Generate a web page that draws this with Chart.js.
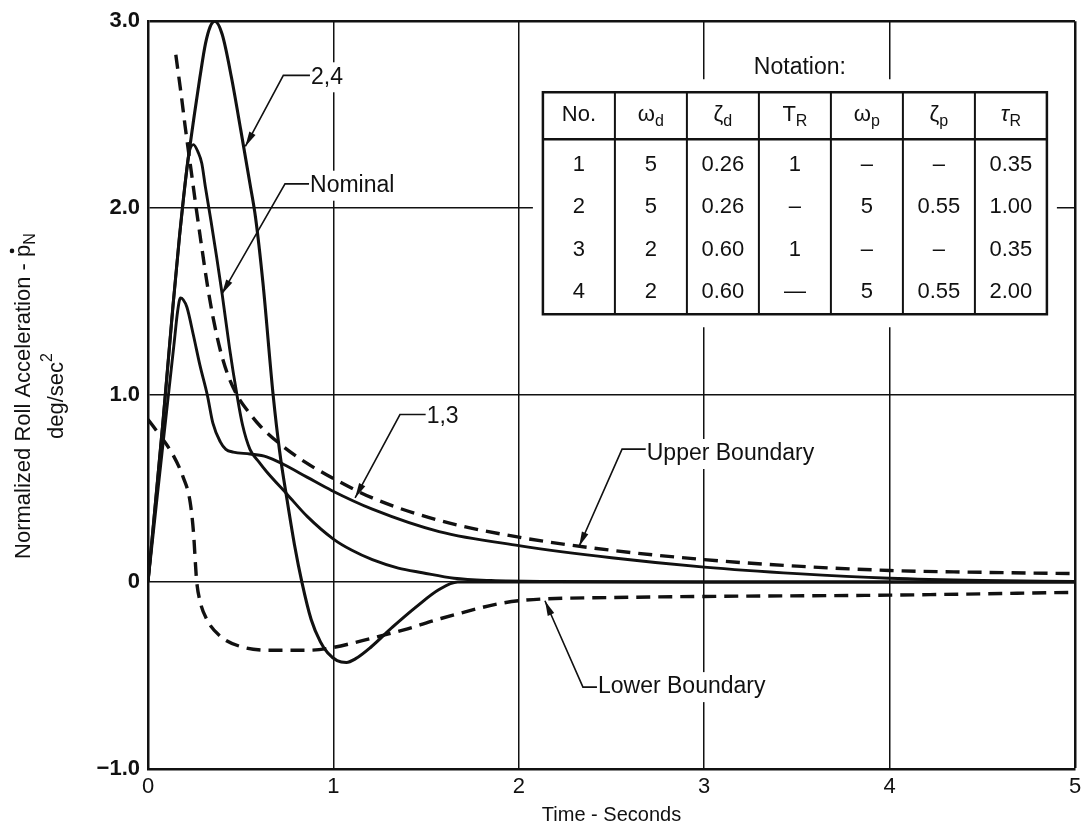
<!DOCTYPE html>
<html>
<head>
<meta charset="utf-8">
<title>Normalized Roll Acceleration</title>
<script src="https://cdn.jsdelivr.net/npm/chart.js@4.4.0/dist/chart.umd.min.js"></script>
<style>
  html, body { margin: 0; padding: 0; background: #fff; }
  canvas { display: block; }
</style>
</head>
<body>
<canvas id="rollChart" width="1081" height="831"></canvas>
<script>
// values (time in s, normalized roll acceleration)
const tUpper = [0.15, 0.18, 0.2, 0.23, 0.26, 0.29, 0.32, 0.35, 0.39, 0.43, 0.48, 0.55, 0.6, 0.71, 0.85, 0.97, 1.21, 1.57, 2.0, 2.5, 3.0, 3.5, 4.0, 4.5, 5.0];
const upperBoundary = [2.82, 2.6, 2.44, 2.22, 2.0, 1.79, 1.59, 1.42, 1.24, 1.11, 1.0, 0.9, 0.84, 0.74, 0.64, 0.57, 0.45, 0.33, 0.24, 0.17, 0.12, 0.085, 0.062, 0.052, 0.045];

const tLower = [0, 0.075, 0.135, 0.19, 0.227, 0.245, 0.262, 0.28, 0.317, 0.39, 0.5, 0.68, 0.86, 0.97, 1.21, 1.4, 1.58, 2.0, 2.5, 3.0, 4.0, 5.0];
const lowerBoundary = [0.87, 0.77, 0.68, 0.56, 0.43, 0.27, 0.01, -0.1, -0.2, -0.29, -0.345, -0.365, -0.365, -0.355, -0.3, -0.25, -0.195, -0.1, -0.083, -0.077, -0.07, -0.055];

const tNominal = [0, 0.08, 0.135, 0.17, 0.2, 0.22, 0.245, 0.27, 0.29, 0.31, 0.34, 0.37, 0.4, 0.44, 0.48, 0.51, 0.55, 0.6, 0.64, 0.75, 0.86, 1.0, 1.1, 1.21, 1.35, 1.48, 1.65, 1.85, 2.2, 3.0, 4.0, 5.0];
const nominal = [0, 0.85, 1.48, 1.85, 2.13, 2.29, 2.34, 2.3, 2.24, 2.11, 1.93, 1.74, 1.54, 1.25, 1.0, 0.84, 0.71, 0.64, 0.59, 0.47, 0.35, 0.23, 0.17, 0.12, 0.075, 0.05, 0.02, 0.008, 0.003, 0, 0, 0];

const t13 = [0, 0.05, 0.1, 0.14, 0.16, 0.175, 0.19, 0.21, 0.245, 0.28, 0.32, 0.35, 0.39, 0.42, 0.46, 0.55, 0.64, 0.73, 0.86, 0.99, 1.21, 1.57, 2.0, 2.5, 3.0, 3.5, 4.0, 4.5, 5.0];
const curve13 = [0, 0.46, 0.91, 1.27, 1.45, 1.52, 1.51, 1.47, 1.32, 1.16, 1.0, 0.85, 0.75, 0.71, 0.695, 0.685, 0.67, 0.63, 0.56, 0.49, 0.39, 0.27, 0.195, 0.13, 0.08, 0.045, 0.02, 0.008, 0.003];

const t24 = [0, 0.08, 0.135, 0.17, 0.2, 0.25, 0.28, 0.31, 0.335, 0.36, 0.4, 0.45, 0.5, 0.55, 0.58, 0.62, 0.675, 0.71, 0.75, 0.79, 0.83, 0.88, 0.93, 0.97, 1.02, 1.07, 1.12, 1.2, 1.32, 1.45, 1.57, 1.67, 1.8, 2.5, 3.5, 5.0];
const curve24 = [0, 0.85, 1.48, 1.85, 2.13, 2.5, 2.7, 2.88, 2.97, 3.0, 2.93, 2.7, 2.42, 2.13, 1.95, 1.6, 1.0, 0.7, 0.44, 0.2, 0.0, -0.2, -0.32, -0.38, -0.42, -0.43, -0.41, -0.35, -0.24, -0.13, -0.04, 0, 0, 0, 0, 0];

const yTicks = [-1, 0, 1, 2, 3];
const yTickLabels = ['\u22121.0', '0', '1.0', '2.0', '3.0'];
const xTicks = [0, 1, 2, 3, 4, 5];

// notation table
const tableHead = [['No.', ''], ['\u03c9', 'd'], ['\u03b6', 'd'], ['T', 'R'], ['\u03c9', 'p'], ['\u03b6', 'p'], ['\u03c4', 'R']];
const tableRows = [
    ['1', '5', '0.26', '1', '\u2013', '\u2013', '0.35'],
    ['2', '5', '0.26', '\u2013', '5', '0.55', '1.00'],
    ['3', '2', '0.60', '1', '\u2013', '\u2013', '0.35'],
    ['4', '2', '0.60', '\u2014', '5', '0.55', '2.00']
];

// callouts: text anchor, elbow of the leader, arrow tip (data units)
const callouts = [
    { label: '2,4', text: [0.879, 2.70], elbow: [0.73, 2.71], tip: [0.525, 2.33] },
    { label: 'Nominal', text: [0.874, 2.12], elbow: [0.739, 2.13], tip: [0.398, 1.54] },
    { label: '1,3', text: [1.503, 0.887], elbow: [1.359, 0.896], tip: [1.117, 0.45] },
    { label: 'Upper Boundary', text: [2.69, 0.685], elbow: [2.557, 0.711], tip: [2.325, 0.19] },
    { label: 'Lower Boundary', text: [2.427, -0.562], elbow: [2.346, -0.562], tip: [2.141, -0.1] }
];
const tableAnchor = [2.13, 2.62]; // top-left corner of the table

const ink = '#111';
const FAM = '"Liberation Sans", Arial, Helvetica, sans-serif';

const pairs = (ts, ys) => ts.map((t, i) => ({ x: t, y: ys[i] }));

function toPx(chart, p) {
    return [chart.scales.x.getPixelForValue(p[0]), chart.scales.y.getPixelForValue(p[1])];
}

function arrowHead(ctx, x0, y0, x1, y1) {
    const a = Math.atan2(y1 - y0, x1 - x0);
    const len = 15, half = 3.5;
    const bx = x1 - len * Math.cos(a), by = y1 - len * Math.sin(a);
    ctx.beginPath();
    ctx.moveTo(x1, y1);
    ctx.lineTo(bx + half * Math.sin(a), by - half * Math.cos(a));
    ctx.lineTo(bx - half * Math.sin(a), by + half * Math.cos(a));
    ctx.closePath();
    ctx.fill();
}

function drawTable(chart) {
    const ctx = chart.ctx;
    const [left, top] = toPx(chart, tableAnchor);
    const colW = 72, headH = 47, bodyH = 175, rowH = 42.5;
    const w = colW * tableHead.length, h = headH + bodyH;

    // the table sits on white, breaking the grid behind it
    ctx.fillStyle = '#fff';
    ctx.fillRect(left - 10, top - 13, w + 20, h + 26);

    ctx.fillStyle = ink;
    ctx.textBaseline = 'middle';
    ctx.textAlign = 'center';
    ctx.font = '23px ' + FAM;
    ctx.fillText('Notation:', left + w / 2 + 5, top - 25);

    ctx.strokeStyle = ink;
    ctx.lineWidth = 2.5;
    ctx.strokeRect(left, top, w, h);
    ctx.beginPath();
    ctx.moveTo(left, top + headH);
    ctx.lineTo(left + w, top + headH);
    ctx.stroke();
    ctx.lineWidth = 2;
    for (let i = 1; i < tableHead.length; i++) {
        ctx.beginPath();
        ctx.moveTo(left + i * colW, top);
        ctx.lineTo(left + i * colW, top + h);
        ctx.stroke();
    }

    // header with subscripts
    tableHead.forEach((hd, i) => {
        const cx = left + (i + 0.5) * colW, cy = top + headH / 2;
        ctx.font = '22px ' + FAM;
        const wm = ctx.measureText(hd[0]).width;
        ctx.font = '16px ' + FAM;
        const ws = hd[1] ? ctx.measureText(hd[1]).width : 0;
        let x = cx - (wm + ws) / 2;
        ctx.textAlign = 'left';
        ctx.font = (hd[0] === '\u03c4' ? 'italic ' : '') + '22px ' + FAM;
        ctx.fillText(hd[0], x, cy - 1);
        if (hd[1]) {
            ctx.font = '16px ' + FAM;
            ctx.fillText(hd[1], x + wm, cy + 6);
        }
    });

    ctx.textAlign = 'center';
    ctx.font = '22px ' + FAM;
    tableRows.forEach((row, r) => {
        const cy = top + headH + 4 + rowH * (r + 0.5);
        row.forEach((cell, c) => {
            ctx.fillText(cell, left + (c + 0.5) * colW, cy);
        });
    });
}

const notesPlugin = {
    id: 'notes',
    beforeDatasetsDraw(chart) {
        const ctx = chart.ctx;
        ctx.save();
        ctx.font = '23px ' + FAM;
        ctx.fillStyle = '#fff';
        callouts.forEach(c => {
            const [tx, ty] = toPx(chart, c.text);
            const wt = ctx.measureText(c.label).width;
            ctx.fillRect(tx - 4, ty - 15, wt + 8, 30);
        });
        drawTable(chart);
        ctx.restore();
    },
    afterDatasetsDraw(chart) {
        const ctx = chart.ctx;
        ctx.save();
        ctx.strokeStyle = ink;
        ctx.fillStyle = ink;
        ctx.lineWidth = 1.6;
        ctx.font = '23px ' + FAM;
        ctx.textBaseline = 'middle';
        ctx.textAlign = 'left';
        callouts.forEach(c => {
            const [tx, ty] = toPx(chart, c.text);
            const [ex, ey] = toPx(chart, c.elbow);
            const [px, py] = toPx(chart, c.tip);
            ctx.beginPath();
            ctx.moveTo(tx - 1, ey);
            ctx.lineTo(ex, ey);
            ctx.lineTo(px, py);
            ctx.stroke();
            arrowHead(ctx, ex, ey, px, py);
            ctx.fillText(c.label, tx, ty);
        });
        ctx.restore();
    },
    afterDraw(chart) {
        // y-axis title: two rotated lines with the dotted p and sub/superscripts
        const ctx = chart.ctx;
        const cy = (chart.chartArea.top + chart.chartArea.bottom) / 2 + 1;
        ctx.save();
        ctx.translate(38.5, cy);
        ctx.rotate(-Math.PI / 2);
        ctx.fillStyle = ink;
        ctx.textAlign = 'left';
        ctx.textBaseline = 'alphabetic';
        const big = '22px ' + FAM, small = '16px ' + FAM;

        const main = 'Normalized Roll Acceleration - ';
        ctx.font = big;
        const wMain = ctx.measureText(main).width, wP = ctx.measureText('p').width;
        ctx.font = small;
        const wN = ctx.measureText('N').width;
        let x = -(wMain + wP + wN) / 2;
        const b1 = -8.5;
        ctx.font = big;
        ctx.fillText(main, x, b1);
        x += wMain;
        ctx.fillText('p', x, b1);
        ctx.beginPath();
        ctx.arc(x + wP / 2, b1 - 18, 2.3, 0, Math.PI * 2);
        ctx.fill();
        x += wP;
        ctx.font = small;
        ctx.fillText('N', x, b1 + 5);

        const l2 = 'deg/sec';
        ctx.font = big;
        const w2 = ctx.measureText(l2).width;
        ctx.font = small;
        const w2s = ctx.measureText('2').width;
        let x2 = -(w2 + w2s) / 2;
        const b2 = 24.5;
        ctx.font = big;
        ctx.fillText(l2, x2, b2);
        ctx.font = small;
        ctx.fillText('2', x2 + w2, b2 - 11);
        ctx.restore();
    }
};

const solid = (label, ts, ys, width) => ({
    label, data: pairs(ts, ys),
    borderColor: ink, borderWidth: width,
    pointRadius: 0, cubicInterpolationMode: 'monotone', fill: false
});
const dashed = (label, ts, ys) => ({
    label, data: pairs(ts, ys),
    borderColor: ink, borderWidth: 3.4, borderDash: [14, 8],
    pointRadius: 0, cubicInterpolationMode: 'monotone', fill: false
});

const gridWidth = max => c => (c.tick && c.tick.value === max) ? 2.5 : 1.5;

new Chart(document.getElementById('rollChart'), {
    type: 'line',
    data: {
        datasets: [
            solid('2,4', t24, curve24, 3.1),
            solid('Nominal', tNominal, nominal, 2.9),
            solid('1,3', t13, curve13, 2.9),
            dashed('Upper Boundary', tUpper, upperBoundary),
            dashed('Lower Boundary', tLower, lowerBoundary)
        ]
    },
    options: {
        responsive: false,
        animation: false,
        devicePixelRatio: 1,
        layout: { padding: { top: 18, right: 6, left: 0, bottom: 0 } },
        plugins: { legend: { display: false }, tooltip: { enabled: false } },
        scales: {
            x: {
                type: 'linear', min: 0, max: 5,
                afterBuildTicks: s => { s.ticks = xTicks.map(v => ({ value: v })); },
                ticks: { color: ink, padding: 5, font: { family: FAM, size: 22 } },
                grid: { color: ink, lineWidth: gridWidth(5), drawTicks: false },
                border: { color: ink, width: 2.5 },
                title: {
                    display: true, text: 'Time - Seconds', color: ink,
                    font: { family: FAM, size: 20 }, padding: { top: 0, bottom: 4 }
                },
                afterFit: s => { s.height = 62; s.paddingLeft = 0; s.paddingRight = 0; }
            },
            y: {
                type: 'linear', min: -1, max: 3,
                afterBuildTicks: s => { s.ticks = yTicks.map(v => ({ value: v })); },
                ticks: {
                    color: ink, padding: 8, font: { family: FAM, size: 22, weight: 'bold' },
                    callback: (v) => yTickLabels[yTicks.indexOf(v)]
                },
                grid: { color: ink, lineWidth: gridWidth(3), drawTicks: false },
                border: { color: ink, width: 2.5 },
                afterFit: s => { s.width = 148; }
            }
        }
    },
    plugins: [notesPlugin]
});
</script>
</body>
</html>
